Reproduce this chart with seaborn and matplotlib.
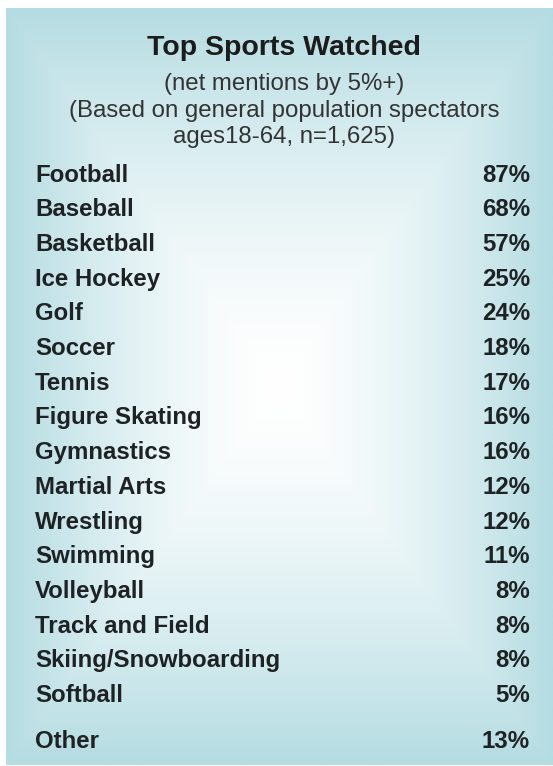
import numpy as np
import matplotlib.pyplot as plt
import seaborn as sns

# table data
sports = ['Football', 'Baseball', 'Basketball', 'Ice Hockey', 'Golf', 'Soccer',
          'Tennis', 'Figure Skating', 'Gymnastics', 'Martial Arts', 'Wrestling',
          'Swimming', 'Volleyball', 'Track and Field', 'Skiing/Snowboarding',
          'Softball']
pct = [87, 68, 57, 25, 24, 18, 17, 16, 16, 12, 12, 11, 8, 8, 8, 5]
other_label = 'Other'
other_pct = 13

title = 'Top Sports Watched'
subtitle = ['(net mentions by 5%+)',
            '(Based on general population spectators',
            'ages18-64, n=1,625)']

sns.set_style('white')
plt.rcParams['font.family'] = ['Liberation Sans', 'DejaVu Sans']

W, H = 553, 766
fig = plt.figure(figsize=(W / 100, H / 100), dpi=100)
fig.patch.set_facecolor('white')

#background panel with rectangular gradient (white centre, light teal edges)
x0, x1, y0, y1 = 6, 553, 8, 765
bg = fig.add_axes([x0 / W, 1 - y1 / H, (x1 - x0) / W, (y1 - y0) / H])
nx, ny = 300, 400
u = np.abs(np.linspace(-1, 1, nx))[None, :]
v = np.abs(np.linspace(-1, 1, ny))[:, None]
t = np.clip(np.maximum(u, v), 0, 1) ** 1.5
edge = np.array([180, 220, 226]) / 255
white = np.array([1.0, 1.0, 1.0])
img = white[None, None, :] + (edge - white)[None, None, :] * t[:, :, None]
bg.imshow(img, aspect='auto', interpolation='bilinear')
bg.axis('off')

#text axes: x in pixels, y in row units
ax = fig.add_axes([0, 0, 1, 1])
ax.patch.set_alpha(0)
ax.axis('off')
row0, step = 175, 34.7
ax.set_xlim(0, W)
ax.set_ylim((H - row0) / step, -row0 / step)

def px(y):
    return (y - row0) / step

fs = 17.3
ax.text(284, px(48), title, ha='center', va='center', fontsize=20.5,
        fontweight='bold', color='#1c1c1c')
for yy, s in zip([84, 111, 137], subtitle):
    ax.text(284, px(yy), s, ha='center', va='center', fontsize=fs, color='#333333')

txt = '#1e2224'
for i, (s, p) in enumerate(zip(sports, pct)):
    ax.text(35, i, s, ha='left', va='center', fontsize=fs, fontweight='bold', color=txt)
    ax.text(530, i, f'{p}%', ha='right', va='center', fontsize=fs, fontweight='bold', color=txt)

other_row = len(sports) + 0.34
ax.text(35, other_row, other_label, ha='left', va='center', fontsize=fs,
        fontweight='bold', color=txt)
ax.text(530, other_row, f'{other_pct}%', ha='right', va='center', fontsize=fs,
        fontweight='bold', color=txt)

fig.savefig('out.png', dpi=100)
